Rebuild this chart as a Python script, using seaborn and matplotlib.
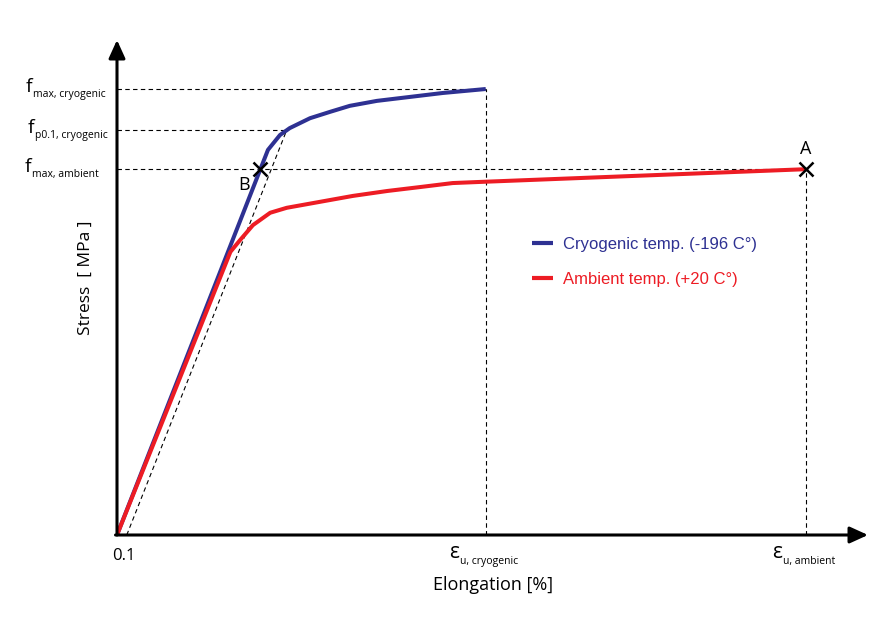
import pandas as pd
import matplotlib.pyplot as plt
import seaborn as sns

# values (x: elongation, y: stress, both 0-100 arbitrary units)
cryo_x = [0, 20.1, 21.7, 23.0, 25.7, 28.4, 31.0, 34.6, 39.0, 43.4, 49.1]
cryo_y = [0, 77.8, 80.8, 82.2, 84.2, 85.5, 86.7, 87.7, 88.5, 89.3, 90.1]
amb_x = [0, 15.1, 16.4, 18.1, 20.4, 22.6, 27.0, 31.4, 36.0, 40.4, 44.7, 47.9, 91.7]
amb_y = [0, 57.2, 59.6, 62.6, 65.1, 66.1, 67.3, 68.5, 69.5, 70.3, 71.1, 71.3, 73.9]

f_max_cryo = 90.1
f_p01_cryo = 81.8
f_max_amb = 73.9
eps_u_cryo = 49.1
eps_u_amb = 91.7
offset_x = [1.3, 22.6]
offset_y = [0, f_p01_cryo]
point_b = (19.0, f_max_amb)
point_a = (eps_u_amb, f_max_amb)

series = ["Cryogenic temp. (-196 C°)", "Ambient temp. (+20 C°)"]
blue = "#2e3192"
red = "#ed1c24"

df = pd.concat([
    pd.DataFrame({"x": cryo_x, "y": cryo_y, "series": series[0]}),
    pd.DataFrame({"x": amb_x, "y": amb_y, "series": series[1]}),
])

sns.set_theme(style="white")
plt.rcParams["font.family"] = ["Open Sans", "DejaVu Sans"]
plt.rcParams["mathtext.default"] = "regular"
plt.rcParams["text.color"] = "black"

W, H = 878, 621
fig = plt.figure(figsize=(W / 100, H / 100), dpi=100)
ax = fig.add_axes([117 / W, (H - 535) / H, 751 / W, 495 / H])
ax.set_xlim(0, 100)
ax.set_ylim(0, 100)
for s in ax.spines.values():
    s.set_visible(False)
ax.set_xticks([])
ax.set_yticks([])
ax.patch.set_alpha(0)

dash = dict(color="black", lw=0.8, ls=(0, (4, 3)), zorder=1)
ax.plot([0, eps_u_cryo], [f_max_cryo, f_max_cryo], **dash)
ax.plot([0, offset_x[1]], [f_p01_cryo, f_p01_cryo], **dash)
ax.plot([0, eps_u_amb], [f_max_amb, f_max_amb], **dash)
ax.plot([eps_u_cryo, eps_u_cryo], [0, f_max_cryo], **dash)
ax.plot([eps_u_amb, eps_u_amb], [0, f_max_amb], **dash)
ax.plot(offset_x, offset_y, **dash)

sns.lineplot(data=df, x="x", y="y", hue="series", palette=[blue, red],
             sort=False, lw=2.9, ax=ax, zorder=3, solid_joinstyle="round",
             solid_capstyle="butt")

ax.plot(*point_b, marker="x", ms=10, mew=1.8, color="black", zorder=5)
ax.plot(*point_a, marker="x", ms=10, mew=1.8, color="black", zorder=5)
ax.text(point_b[0] - 2.1, point_b[1] - 3.1, "B", fontsize=13, ha="center", va="center")
ax.text(point_a[0], point_a[1] + 4.0, "A", fontsize=13, ha="center", va="center")

# axes with arrow heads
arrow = dict(arrowstyle="-|>,head_length=0.55,head_width=0.25", lw=2.2, color="black",
             shrinkA=0, shrinkB=0, mutation_scale=20)
ax.annotate("", xy=(0, 1), xytext=(0, 0), xycoords="axes fraction", arrowprops=arrow)
ax.annotate("", xy=(1, 0), xytext=(-0.002, 0), xycoords="axes fraction", arrowprops=arrow)


def fig_text(px, py, s, **kw):
    fig.text(px / W, 1 - py / H, s, **kw)


# y tick labels: (f left px, line px, subscript)
for fx, ly, sub in [(26, 89, "max, cryogenic"), (28, 130, "p0.1, cryogenic"), (25, 169, "max, ambient")]:
    fig_text(fx, ly + 3, "f", fontsize=14, va="baseline")
    fig_text(fx + 7, ly + 8, sub, fontsize=7.5, va="baseline")

# x tick labels
fig_text(112, 560, "0.1", fontsize=12, va="baseline")
fig_text(449, 558, r"$\varepsilon$", fontsize=15, va="baseline")
fig_text(460, 564, "u, cryogenic", fontsize=7.5, va="baseline")
fig_text(772, 558, r"$\varepsilon$", fontsize=15, va="baseline")
fig_text(783, 564, "u, ambient", fontsize=7.5, va="baseline")

fig_text(493, 585, "Elongation [%]", fontsize=13, ha="center", va="center")
fig_text(86, 278, "Stress  [ MPa ]", fontsize=12.5, ha="center", va="center", rotation=90)

leg = ax.legend(loc="upper left", bbox_to_anchor=(532 / W, 1 - 237 / H),
                bbox_transform=fig.transFigure, frameon=False, borderpad=0,
                borderaxespad=0, handlelength=1.26, handletextpad=0.6,
                labelspacing=1.2,
                prop={"family": ["Liberation Sans Narrow", "Liberation Sans"], "size": 12})
for t, c in zip(leg.get_texts(), [blue, red]):
    t.set_color(c)
for h in leg.get_lines():
    h.set_linewidth(3)
    h.set_solid_capstyle("butt")

fig.savefig("out.png", dpi=100)
